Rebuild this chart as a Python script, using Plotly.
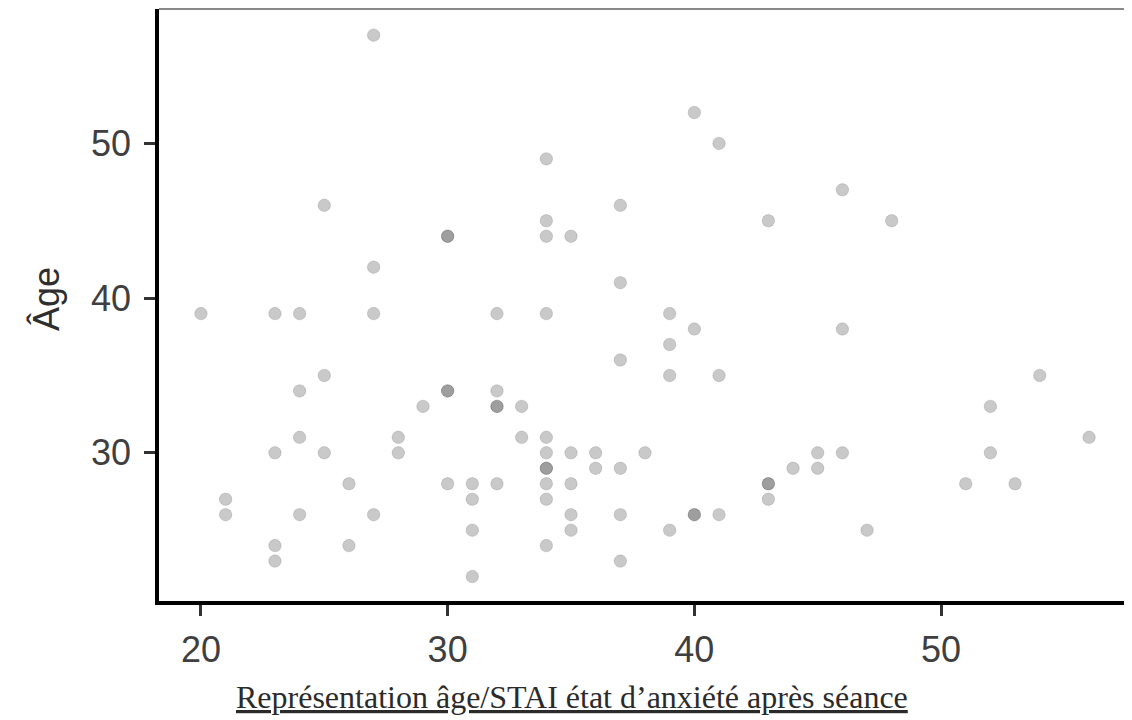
import plotly.graph_objects as go

# STAI état d'anxiété après séance (x) vs âge (y); repeated pairs are real duplicates
stai = [27, 34, 25, 37, 34, 30, 30, 34, 35, 27, 37, 40, 41, 46, 43, 48,
        20, 23, 24, 27, 32, 34, 39,
        40, 46, 39, 37,
        25, 39, 41, 54,
        24, 30, 30, 32,
        29, 32, 32, 33, 52,
        24, 28, 33, 34, 56,
        23, 25, 28, 34, 35, 36, 38, 45, 46, 52,
        34, 34, 36, 37, 44, 45,
        26, 30, 31, 32, 34, 35, 43, 43, 51, 53,
        21, 31, 34, 43,
        21, 24, 27, 35, 37, 40, 40, 41,
        31, 35, 39, 47,
        23, 26, 34,
        23, 37,
        31]
age = [57, 49, 46, 46, 45, 44, 44, 44, 44, 42, 41, 52, 50, 47, 45, 45,
       39, 39, 39, 39, 39, 39, 39,
       38, 38, 37, 36,
       35, 35, 35, 35,
       34, 34, 34, 34,
       33, 33, 33, 33, 33,
       31, 31, 31, 31, 31,
       30, 30, 30, 30, 30, 30, 30, 30, 30, 30,
       29, 29, 29, 29, 29, 29,
       28, 28, 28, 28, 28, 28, 28, 28, 28, 28,
       27, 27, 27, 27,
       26, 26, 26, 26, 26, 26, 26, 26,
       25, 25, 25, 25,
       24, 24, 24,
       23, 23,
       22]

x_ticks = [20, 30, 40, 50]
y_ticks = [30, 40, 50]

# page body has an 8px margin, so the figure is shifted by that much
W, H = 1124, 712
L, R, T, B = 151, 0, 1, 119
PW, PH = W - L - R, H - T - B

fig = go.Figure()
fig.add_trace(go.Scatter(
    x=stai, y=age, mode='markers',
    marker=dict(size=12.5, color='rgba(0,0,0,0.21)',
                line=dict(color='rgba(0,0,0,0.12)', width=1)),
    hoverinfo='x+y', showlegend=False))

tick_font = dict(family='Liberation Sans, Arial, sans-serif', size=36, color='#3f3f3f')
axis_common = dict(showgrid=False, zeroline=False, showline=True, linecolor='black',
                   linewidth=3.5, ticks='outside', ticklen=11, tickwidth=3,
                   tickcolor='#333333', tickfont=tick_font)

fig.update_xaxes(range=[18.30, 57.74], tickvals=x_ticks, ticklabelstandoff=3, **axis_common)
fig.update_yaxes(range=[20.42, 58.69], tickvals=y_ticks, ticklabelstandoff=6, **axis_common)

# thin grey edge along the top of the panel
fig.add_shape(type='line', xref='paper', yref='paper', x0=0, x1=1, y0=1, y1=1,
              line=dict(color='#8a8a8a', width=2))

fig.add_annotation(text='Âge', xref='paper', yref='paper',
                   x=(46 - 159) / PW, y=0.51, textangle=-90,
                   showarrow=False, xanchor='center', yanchor='middle',
                   font=dict(family='Liberation Sans, Arial, sans-serif', size=36, color='#2e2e2e'))

fig.add_annotation(text='<u>Représentation âge/STAI état d’anxiété après séance</u>',
                   xref='paper', yref='paper',
                   x=(572 - 159) / PW, y=(601 - 697) / PH,
                   showarrow=False, xanchor='center', yanchor='middle',
                   font=dict(family='Liberation Serif, Times New Roman, serif', size=32, color='#2b2b2b'))

fig.update_layout(width=W, height=H, margin=dict(l=L, r=R, t=T, b=B),
                  plot_bgcolor='white', paper_bgcolor='white')

fig.write_html("out.html")
